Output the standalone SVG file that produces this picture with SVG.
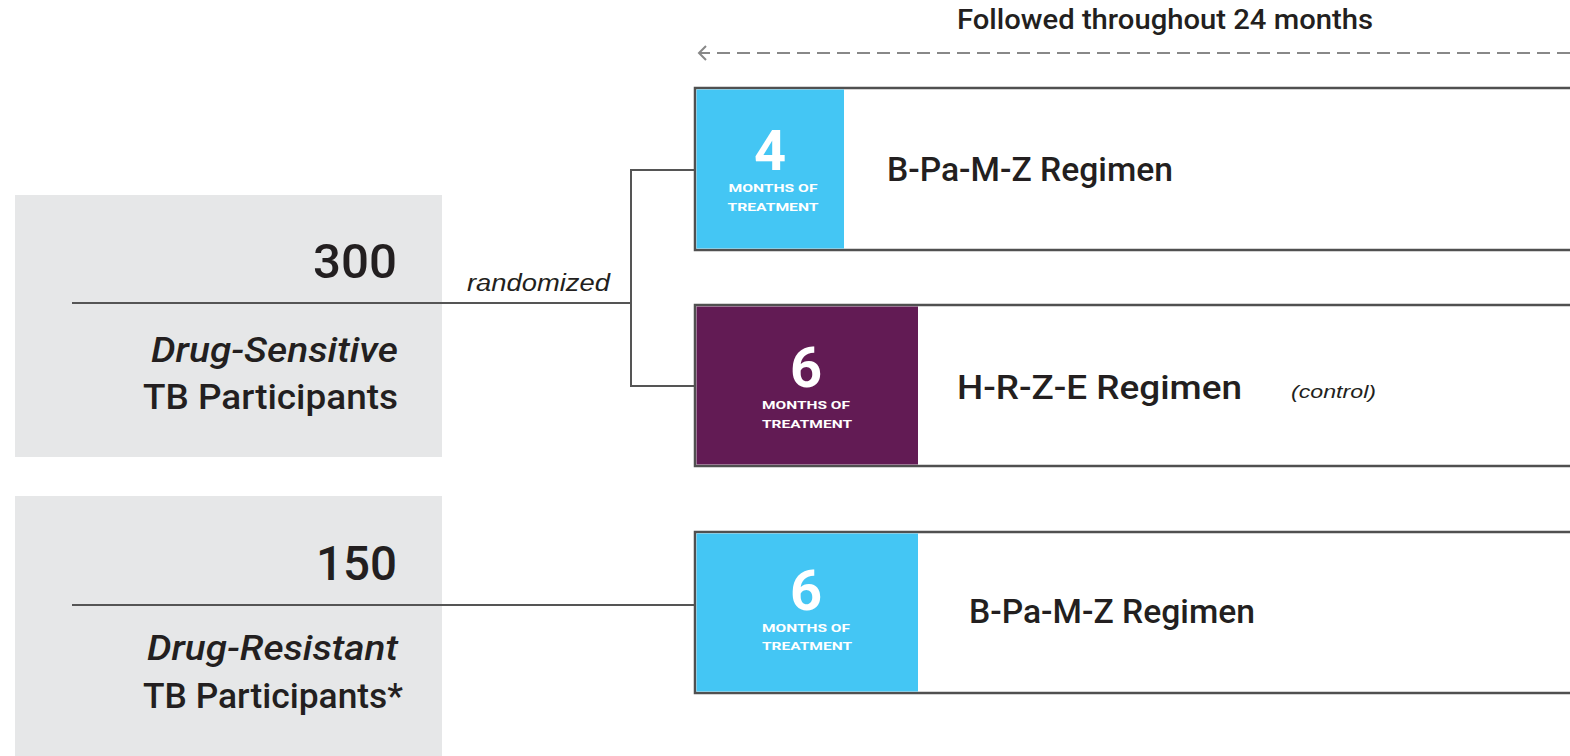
<svg xmlns="http://www.w3.org/2000/svg" width="1570" height="756" viewBox="0 0 1570 756">
<defs>
<style>
.t{font-family:Roboto,"DejaVu Sans Condensed",sans-serif;font-weight:500;fill:#231f20}
.it{font-family:"Liberation Sans",Arial,sans-serif;font-style:italic;font-weight:normal;fill:#231f20}
.big{font-size:48px;text-anchor:end}
.lbl{font-size:35px;text-anchor:end}
.reg{font-size:33px}
.num{font-family:Roboto,"DejaVu Sans",sans-serif;font-size:56px;font-weight:bold;fill:#fff;text-anchor:middle}
.sm{font-family:Roboto,"DejaVu Sans",sans-serif;font-size:11px;font-weight:bold;fill:#fff;text-anchor:middle}
.box{fill:#fff;stroke:#505050;stroke-width:2.5}
.conn{stroke:#555;stroke-width:2;fill:none}
</style>
</defs>
<rect width="1570" height="756" fill="#fff"/>

<g id="header">
<text class="t" x="1165" y="29" font-size="27" text-anchor="middle" textLength="416" lengthAdjust="spacingAndGlyphs">Followed throughout 24 months</text>
<line x1="1570" y1="53" x2="699" y2="53" stroke="#888" stroke-width="2" stroke-dasharray="13,7"/>
<path d="M706,46 L699,53 L706,60" fill="none" stroke="#888" stroke-width="2"/>
</g>

<g id="panel-ds">
<rect x="15" y="195" width="427" height="262" fill="#e6e7e8"/>
<text class="t big" x="397" y="278" textLength="84" lengthAdjust="spacingAndGlyphs">300</text>
<text class="t lbl" x="398" y="362" font-style="italic" textLength="247" lengthAdjust="spacingAndGlyphs">Drug-Sensitive</text>
<text class="t lbl" x="398" y="409" textLength="255" lengthAdjust="spacingAndGlyphs">TB Participants</text>
</g>

<g id="panel-dr">
<rect x="15" y="496" width="427" height="262" fill="#e6e7e8"/>
<text class="t big" x="397" y="580" textLength="81" lengthAdjust="spacingAndGlyphs">150</text>
<text class="t lbl" x="398" y="660" font-style="italic" textLength="251" lengthAdjust="spacingAndGlyphs">Drug-Resistant</text>
<text class="t lbl" x="403" y="708" textLength="260" lengthAdjust="spacingAndGlyphs">TB Participants*</text>
</g>

<g id="connectors">
<path class="conn" d="M72,303 H631"/>
<path class="conn" d="M695,170 H631 V386 H695"/>
<path class="conn" d="M72,605 H695"/>
<text class="it" x="467" y="291" font-size="23" textLength="143" lengthAdjust="spacingAndGlyphs">randomized</text>
</g>

<g id="arm1">
<rect class="box" x="695" y="88" width="890" height="162"/>
<rect x="696.5" y="89.5" width="147.5" height="159" fill="#44c6f4"/>
<text class="num" x="770" y="170">4</text>
<text class="sm" x="773" y="192" textLength="89" lengthAdjust="spacingAndGlyphs">MONTHS OF</text>
<text class="sm" x="773" y="211" textLength="91" lengthAdjust="spacingAndGlyphs">TREATMENT</text>
<text class="t reg" x="887" y="181" textLength="286" lengthAdjust="spacingAndGlyphs">B-Pa-M-Z Regimen</text>
</g>

<g id="arm2">
<rect class="box" x="695" y="305" width="890" height="161"/>
<rect x="696.5" y="306.5" width="221.5" height="158" fill="#621b54"/>
<text class="num" x="806" y="387">6</text>
<text class="sm" x="806" y="409" textLength="88" lengthAdjust="spacingAndGlyphs">MONTHS OF</text>
<text class="sm" x="807" y="428" textLength="90" lengthAdjust="spacingAndGlyphs">TREATMENT</text>
<text class="t reg" x="957" y="399" textLength="285" lengthAdjust="spacingAndGlyphs">H-R-Z-E Regimen</text>
<text class="it" x="1291" y="398" font-size="19" textLength="85" lengthAdjust="spacingAndGlyphs">(control)</text>
</g>

<g id="arm3">
<rect class="box" x="695" y="532" width="890" height="161"/>
<rect x="696.5" y="533.5" width="221.5" height="158" fill="#44c6f4"/>
<text class="num" x="806" y="610">6</text>
<text class="sm" x="806" y="632" textLength="88" lengthAdjust="spacingAndGlyphs">MONTHS OF</text>
<text class="sm" x="807" y="650" textLength="90" lengthAdjust="spacingAndGlyphs">TREATMENT</text>
<text class="t reg" x="969" y="623" textLength="286" lengthAdjust="spacingAndGlyphs">B-Pa-M-Z Regimen</text>
</g>
</svg>
